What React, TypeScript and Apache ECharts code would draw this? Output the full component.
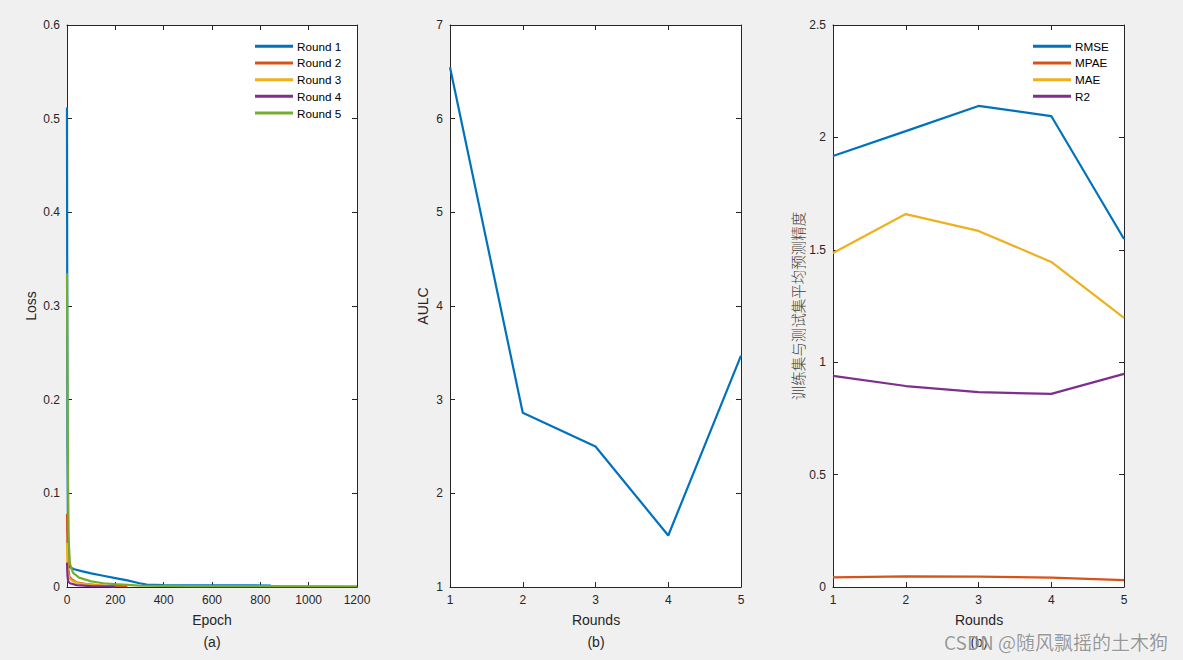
import React, { useEffect, useRef } from "react";
import * as echarts from "echarts";

// ---- Data ----
const lossRound1: number[][] = [[0, 0.512], [1, 0.3], [2, 0.15], [4, 0.06], [7, 0.03], [12, 0.021], [30, 0.019], [60, 0.017], [100, 0.0145], [150, 0.012], [200, 0.0095], [250, 0.007], [300, 0.004], [330, 0.0025], [400, 0.002], [600, 0.0018], [844, 0.0016]];
const lossRound2: number[][] = [[0, 0.078], [2, 0.04], [5, 0.02], [10, 0.011], [20, 0.008], [40, 0.005], [80, 0.003], [150, 0.0015], [250, 0.001]];
const lossRound3: number[][] = [[0, 0.047], [2, 0.025], [5, 0.014], [10, 0.009], [25, 0.006], [50, 0.004], [100, 0.002], [200, 0.001]];
const lossRound4: number[][] = [[0, 0.026], [2, 0.012], [5, 0.006], [12, 0.004], [40, 0.002], [100, 0.001], [200, 0.0008]];
const lossRound5: number[][] = [[0, 0.335], [2, 0.23], [4, 0.12], [7, 0.05], [12, 0.025], [25, 0.015], [50, 0.01], [100, 0.006], [150, 0.004], [200, 0.003], [300, 0.0015], [500, 0.001], [1200, 0.0008]];
const lossNames = ["Round 1", "Round 2", "Round 3", "Round 4", "Round 5"];

const rounds = [1, 2, 3, 4, 5];
const aulc = [6.55, 2.86, 2.5, 1.55, 3.47];

const rmse = [1.917, 2.028, 2.14, 2.095, 1.548];
const mpae = [0.043, 0.047, 0.046, 0.042, 0.031];
const mae = [1.486, 1.659, 1.584, 1.446, 1.197];
const r2 = [0.939, 0.894, 0.867, 0.859, 0.948];
const metricNames = ["RMSE", "MPAE", "MAE", "R2"];

const colors = ["#0072BD", "#D95319", "#EDB120", "#7E2F8E", "#77AC30"];

const INK = "#262626";
const FONT = "'Liberation Sans', Arial, sans-serif";

const grids = [
  { left: 67, top: 25, width: 290, height: 562 },
  { left: 450, top: 25, width: 291, height: 562 },
  { left: 833, top: 25, width: 291, height: 562 },
];

const axisBase = (min: number, max: number, interval: number, showLabel: boolean, pos: string, gridIndex: number) => ({
  type: "value",
  gridIndex,
  position: pos,
  min,
  max,
  interval,
  axisLine: { show: true, onZero: false, lineStyle: { color: INK, width: 1 } },
  axisTick: { show: true, inside: true, length: 5, lineStyle: { color: INK } },
  axisLabel: {
    show: showLabel,
    color: INK,
    fontSize: 12,
    fontFamily: FONT,
    margin: 7,
    showMinLabel: true,
    showMaxLabel: true,
    formatter: (v: number) => String(Math.round(v * 1000) / 1000),
  },
  splitLine: { show: false },
});

const zip = (xs: number[], ys: number[]) => xs.map((x, i) => [x, ys[i]]);

export default function App() {
  const ref = useRef<HTMLDivElement>(null);
  useEffect(() => {
    if (!ref.current) return;
    const chart = echarts.init(ref.current, undefined, { renderer: "svg" });

    const lineSeries = (name: string, data: number[][], color: string, g: number) => ({
      type: "line",
      name,
      data,
      xAxisIndex: g * 2,
      yAxisIndex: g * 2,
      showSymbol: false,
      symbol: "none",
      lineStyle: { color, width: 2.2 },
      itemStyle: { color },
      clip: true,
    });

    const lossData = [lossRound1, lossRound2, lossRound3, lossRound4, lossRound5];
    const metricData = [rmse, mpae, mae, r2];

    const legendCommon = {
      orient: "vertical",
      icon: "rect",
      itemWidth: 38,
      itemHeight: 3,
      itemGap: 4.2,
      padding: 0,
      textStyle: { color: "#000", fontSize: 11.7, fontFamily: FONT, lineHeight: 12.5, padding: [0, 0, 0, -1] },
    };

    const option: any = {
      animation: false,
      backgroundColor: "#f0f0f0",
      grid: grids.map((g) => ({ ...g, show: true, backgroundColor: "#ffffff", borderWidth: 0, containLabel: false })),
      xAxis: [
        axisBase(0, 1200, 200, true, "bottom", 0),
        axisBase(0, 1200, 200, false, "top", 0),
        axisBase(1, 5, 1, true, "bottom", 1),
        axisBase(1, 5, 1, false, "top", 1),
        axisBase(1, 5, 1, true, "bottom", 2),
        axisBase(1, 5, 1, false, "top", 2),
      ],
      yAxis: [
        axisBase(0, 0.6, 0.1, true, "left", 0),
        axisBase(0, 0.6, 0.1, false, "right", 0),
        axisBase(1, 7, 1, true, "left", 1),
        axisBase(1, 7, 1, false, "right", 1),
        axisBase(0, 2.5, 0.5, true, "left", 2),
        axisBase(0, 2.5, 0.5, false, "right", 2),
      ],
      legend: [
        { ...legendCommon, data: lossNames, left: 255, top: 40 },
        { ...legendCommon, data: metricNames, left: 1033, top: 40 },
      ],
      series: [
        ...lossData.map((d, i) => lineSeries(lossNames[i], d, colors[i], 0)),
        lineSeries("AULC", zip(rounds, aulc), colors[0], 1),
        ...metricData.map((d, i) => lineSeries(metricNames[i], zip(rounds, d), colors[i], 2)),
      ],
      graphic: [
        { type: "text", x: 31, y: 306, rotation: Math.PI / 2, style: { text: "Loss", fill: INK, fontSize: 14, fontFamily: FONT, align: "center", verticalAlign: "middle" } },
        { type: "text", x: 212, y: 620, style: { text: "Epoch", fill: INK, fontSize: 14, fontFamily: FONT, align: "center", verticalAlign: "middle" } },
        { type: "text", x: 212, y: 642, style: { text: "(a)", fill: INK, fontSize: 14, fontFamily: FONT, align: "center", verticalAlign: "middle" } },
        { type: "text", x: 423, y: 306, rotation: Math.PI / 2, style: { text: "AULC", fill: INK, fontSize: 14, fontFamily: FONT, align: "center", verticalAlign: "middle" } },
        { type: "text", x: 596, y: 620, style: { text: "Rounds", fill: INK, fontSize: 14, fontFamily: FONT, align: "center", verticalAlign: "middle" } },
        { type: "text", x: 596, y: 642, style: { text: "(b)", fill: INK, fontSize: 14, fontFamily: FONT, align: "center", verticalAlign: "middle" } },
        { type: "text", x: 797, y: 306, rotation: Math.PI / 2, style: { text: "训练集与测试集平均预测精度", fill: "#404040", fontSize: 14.5, fontFamily: "'Noto Sans CJK SC', sans-serif", fontWeight: 300, align: "center", verticalAlign: "middle" } },
        { type: "text", x: 979, y: 620, style: { text: "Rounds", fill: INK, fontSize: 14, fontFamily: FONT, align: "center", verticalAlign: "middle" } },
        { type: "text", x: 979, y: 642, style: { text: "(b)", fill: INK, fontSize: 14, fontFamily: FONT, align: "center", verticalAlign: "middle" } },
        { type: "text", x: 1168, y: 641, z: 100, style: { text: "CSDN @随风飘摇的土木狗", fill: "rgba(120,120,120,0.75)", stroke: "rgba(255,255,255,0.6)", lineWidth: 1, fontSize: 19, fontFamily: "'Noto Sans CJK SC', sans-serif", align: "right", verticalAlign: "middle" } },
      ],
    };

    chart.setOption(option);
    return () => chart.dispose();
  }, []);

  return (
    <div
      ref={ref}
      style={{ position: "fixed", left: 0, top: 0, width: 1183, height: 660, background: "#f0f0f0" }}
    />
  );
}
